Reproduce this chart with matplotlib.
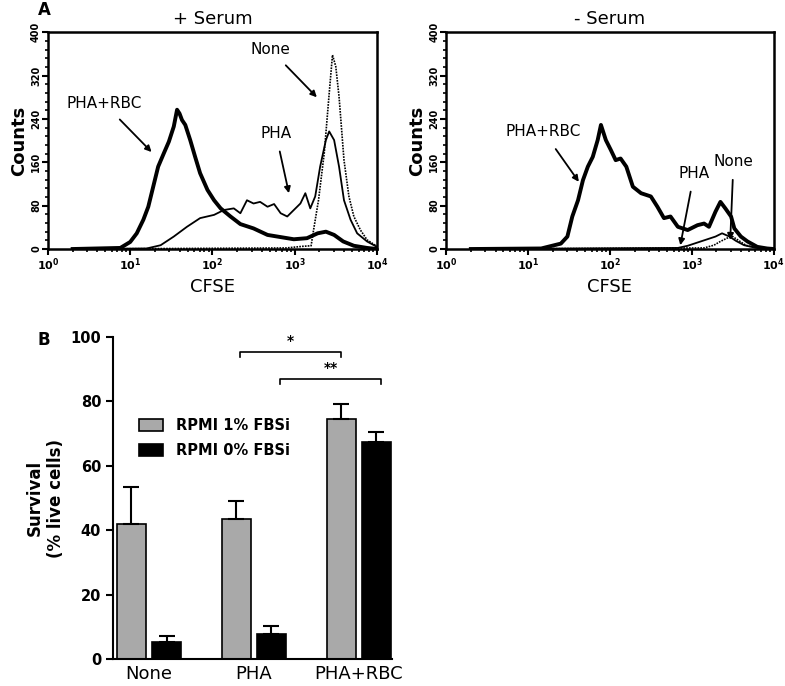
import numpy as np
import matplotlib
matplotlib.use("Agg")
from matplotlib import pyplot as plt
from matplotlib.ticker import MultipleLocator, FixedLocator, LogLocator

# ---- panel A: CFSE histograms (x given as log10 of CFSE) ----
plus_rbc_log = [0.3, 0.88, 1.0, 1.08, 1.16, 1.22, 1.28, 1.34, 1.41, 1.47, 1.53, 1.57, 1.60, 1.63,
                1.67, 1.73, 1.79, 1.85, 1.94, 2.02, 2.10, 2.22, 2.34, 2.50, 2.67, 2.83, 2.99, 3.15,
                3.28, 3.38, 3.48, 3.59, 3.72, 3.88, 4.0]
plus_rbc_counts = [0, 2, 13, 29, 54, 78, 115, 152, 177, 198, 226, 257, 250, 238,
                   229, 201, 170, 140, 109, 90, 75, 60, 46, 38, 26, 22, 18, 20,
                   29, 32, 26, 14, 6, 2, 0]
plus_pha_log = [0.3, 1.2, 1.37, 1.53, 1.69, 1.85, 2.02, 2.14, 2.26, 2.34, 2.42, 2.50, 2.58, 2.67,
                2.75, 2.83, 2.91, 2.99, 3.07, 3.13, 3.19, 3.25, 3.31, 3.38, 3.42, 3.48, 3.54, 3.60,
                3.68, 3.76, 3.88, 4.0]
plus_pha_counts = [0, 1, 7, 23, 41, 57, 63, 72, 75, 66, 90, 84, 87, 78,
                   83, 66, 60, 72, 84, 103, 75, 97, 152, 201, 217, 201, 152, 90,
                   54, 29, 14, 4]
plus_none_log = [0.3, 2.9, 3.1, 3.20, 3.23, 3.29, 3.36, 3.42, 3.46, 3.50, 3.54, 3.60, 3.66, 3.72,
                 3.80, 3.88, 3.98, 4.0]
plus_none_counts = [0, 2, 5, 6, 35, 90, 177, 287, 358, 337, 281, 164, 97, 60,
                    35, 17, 7, 5]

minus_rbc_log = [0.3, 1.16, 1.24, 1.40, 1.48, 1.54, 1.61, 1.67, 1.73, 1.79, 1.85, 1.89, 1.95, 2.01,
                 2.07, 2.13, 2.20, 2.28, 2.38, 2.50, 2.58, 2.66, 2.74, 2.83, 2.95, 3.07, 3.15, 3.21,
                 3.29, 3.35, 3.41, 3.48, 3.52, 3.60, 3.68, 3.80, 3.92, 4.0]
minus_rbc_counts = [0, 1, 4, 10, 23, 60, 90, 127, 152, 170, 201, 229, 201, 183,
                    164, 167, 152, 115, 103, 97, 78, 57, 60, 41, 35, 44, 47, 41,
                    69, 87, 75, 60, 38, 23, 14, 4, 1, 0]
minus_pha_log = [0.3, 2.83, 2.95, 3.11, 3.19, 3.29, 3.37, 3.46, 3.54, 3.64, 3.76, 3.9, 4.0]
minus_pha_counts = [0, 2, 6, 14, 18, 23, 29, 23, 15, 7, 3, 1, 0]
minus_none_log = [0.3, 3.15, 3.27, 3.35, 3.43, 3.50, 3.56, 3.66, 3.76, 3.9, 4.0]
minus_none_counts = [0, 2, 7, 14, 20, 23, 17, 7, 3, 1, 0]

# ---- panel B: survival ----
groups = ["None", "PHA", "PHA+RBC"]
fbs1_mean = [41.9, 43.4, 74.4]
fbs1_err = [11.6, 5.7, 4.7]
fbs0_mean = [5.4, 7.7, 67.3]
fbs0_err = [1.6, 2.6, 3.3]

fig = plt.figure(figsize=(7.85, 6.86), dpi=100)


def hist_panel(ax, title, curves, notes):
    for xs, ys, lw, ls in curves:
        ax.plot(10 ** np.array(xs), ys, color="black", lw=lw, ls=ls)
    ax.set_xscale("log")
    ax.set_xlim(1, 1e4)
    ax.set_ylim(0, 400)
    ax.set_title(title, fontsize=13, pad=6)
    ax.set_xlabel("CFSE", fontsize=13, labelpad=4)
    ax.set_ylabel("Counts", fontsize=13, fontweight="bold", labelpad=2)
    ax.yaxis.set_major_locator(MultipleLocator(80))
    ax.yaxis.set_minor_locator(MultipleLocator(16))
    ax.xaxis.set_major_locator(FixedLocator([1, 10, 100, 1000, 10000]))
    ax.xaxis.set_minor_locator(LogLocator(base=10, subs=np.arange(2, 10)))
    ax.set_xticklabels([r"$\mathbf{10^{%d}}$" % i for i in range(5)], fontsize=8)
    for lab in ax.get_yticklabels():
        lab.set_rotation(90)
        lab.set_fontweight("bold")
        lab.set_fontsize(7)
        lab.set_va("center")
    ax.tick_params(which="major", direction="out", length=4, width=1.5, pad=1)
    ax.tick_params(which="minor", direction="out", length=2.5, width=1.2)
    for sp in ax.spines.values():
        sp.set_linewidth(1.8)
    for text, txy, axy in notes:
        ax.annotate(text, xy=(10 ** axy[0], axy[1]), xytext=(10 ** txy[0], txy[1]),
                    fontsize=11, ha="center", va="center",
                    arrowprops=dict(arrowstyle="-|>", color="black", lw=1.3,
                                    mutation_scale=9, shrinkA=6, shrinkB=0))


dotted = (0, (1, 0.7))
ax1 = fig.add_axes([0.0611, 0.637, 0.419, 0.316])
hist_panel(ax1, "+ Serum",
           [(plus_none_log, plus_none_counts, 1.2, dotted),
            (plus_pha_log, plus_pha_counts, 1.3, "-"),
            (plus_rbc_log, plus_rbc_counts, 2.8, "-")],
           [("PHA+RBC", (0.68, 269), (1.26, 179)),
            ("None", (2.70, 369), (3.27, 280)),
            ("PHA", (2.77, 214), (2.93, 103))])

ax2 = fig.add_axes([0.5685, 0.637, 0.417, 0.316])
hist_panel(ax2, "- Serum",
           [(minus_none_log, minus_none_counts, 1.2, dotted),
            (minus_pha_log, minus_pha_counts, 1.3, "-"),
            (minus_rbc_log, minus_rbc_counts, 2.8, "-")],
           [("PHA+RBC", (1.19, 216), (1.62, 124)),
            ("PHA", (3.03, 140), (2.86, 7)),
            ("None", (3.51, 162), (3.47, 17))])

fig.text(0.048, 0.985, "A", fontsize=12, fontweight="bold", va="center", ha="left")

# ---- panel B ----
ax3 = fig.add_axes([0.144, 0.0394, 0.355, 0.4693])
x = np.arange(len(groups))
w = 0.28
off = 0.167
zeros = [0] * len(groups)
ax3.bar(x - off, fbs1_mean, w, color="#a9a9a9", edgecolor="black", lw=1.2,
        yerr=[zeros, fbs1_err], capsize=6, error_kw=dict(lw=1.5, capthick=1.5),
        label="RPMI 1% FBSi")
ax3.bar(x + off, fbs0_mean, w, color="black", edgecolor="black", lw=1.2,
        yerr=[zeros, fbs0_err], capsize=6, error_kw=dict(lw=1.5, capthick=1.5),
        label="RPMI 0% FBSi")
ax3.set_xlim(-0.343, 2.314)
ax3.set_ylim(0, 100)
ax3.set_xticks(x)
ax3.set_xticklabels(groups, fontsize=13)
ax3.tick_params(axis="x", length=0, pad=4)
ax3.yaxis.set_major_locator(MultipleLocator(20))
ax3.tick_params(axis="y", direction="out", length=5, width=1.5, labelsize=10.5)
for lab in ax3.get_yticklabels():
    lab.set_fontweight("bold")
ax3.spines["top"].set_visible(False)
ax3.spines["right"].set_visible(False)
ax3.spines["left"].set_linewidth(1.5)
ax3.spines["bottom"].set_linewidth(1.5)
ax3.set_ylabel("Survival\n(% live cells)", fontsize=12, fontweight="bold", labelpad=4)

# significance brackets
ax3.plot([0.867, 0.867, 1.826, 1.826], [93.9, 95.4, 95.4, 93.9], color="black", lw=1.2)
ax3.text(1.35, 96.5, "*", ha="center", va="bottom", fontsize=10, fontweight="bold")
ax3.plot([1.25, 1.25, 2.216, 2.216], [85.4, 87.1, 87.1, 85.4], color="black", lw=1.2)
ax3.text(1.73, 88.2, "**", ha="center", va="bottom", fontsize=10, fontweight="bold")

leg = ax3.legend(loc="upper left", bbox_to_anchor=(0.045, 0.79), frameon=False,
                 prop=dict(size=10.5, weight="bold"), handlelength=1.65, handleheight=0.9,
                 labelspacing=0.7, handletextpad=0.9)

fig.text(0.048, 0.505, "B", fontsize=12, fontweight="bold", va="center", ha="left")

fig.savefig("out.png", dpi=100)
